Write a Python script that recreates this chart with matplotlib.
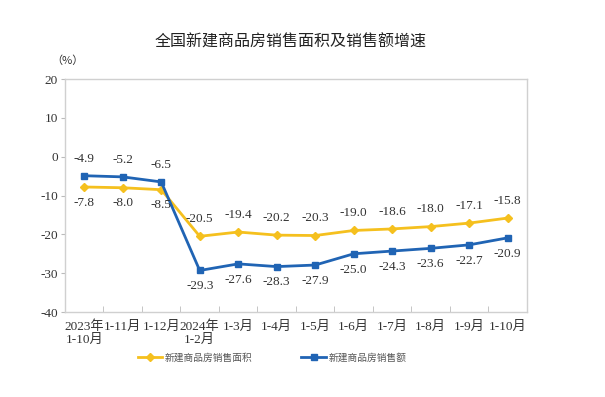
import matplotlib
matplotlib.use("Agg")
import matplotlib.pyplot as plt
import numpy as np

plt.rcParams["font.family"] = ["Liberation Serif", "Noto Sans CJK SC", "DejaVu Sans"]
plt.rcParams["axes.unicode_minus"] = False

categories = ["2023年\n1-10月", "1-11月", "1-12月", "2024年\n1-2月", "1-3月", "1-4月",
              "1-5月", "1-6月", "1-7月", "1-8月", "1-9月", "1-10月"]
area_growth = [-7.8, -8.0, -8.5, -20.5, -19.4, -20.2, -20.3, -19.0, -18.6, -18.0, -17.1, -15.8]
sales_growth = [-4.9, -5.2, -6.5, -29.3, -27.6, -28.3, -27.9, -25.0, -24.3, -23.6, -22.7, -20.9]
y_ticks = [20, 10, 0, -10, -20, -30, -40]

yellow = "#F5C01E"
blue = "#2064B4"
text_color = "#333333"

fig = plt.figure(figsize=(6.05, 3.97), dpi=100)
ax = fig.add_axes([0.1074, 0.214, 0.7636, 0.587])

x = np.arange(len(categories))
ax.plot(x, area_growth, color=yellow, lw=2, marker="D", ms=4, label="新建商品房销售面积")
ax.plot(x, sales_growth, color=blue, lw=2, marker="s", ms=4, label="新建商品房销售额")

# value labels: first three points the lines are the other way round
for i in range(len(x)):
    if i < 3:
        ax.annotate(f"{sales_growth[i]:.1f}", (x[i], sales_growth[i]), xytext=(0, 8),
                    textcoords="offset points", ha="center", va="bottom", fontsize=9.5, color=text_color)
        ax.annotate(f"{area_growth[i]:.1f}", (x[i], area_growth[i]), xytext=(0, -7),
                    textcoords="offset points", ha="center", va="top", fontsize=9.5, color=text_color)
    else:
        ax.annotate(f"{area_growth[i]:.1f}", (x[i], area_growth[i]), xytext=(0, 8),
                    textcoords="offset points", ha="center", va="bottom", fontsize=9.5, color=text_color)
        ax.annotate(f"{sales_growth[i]:.1f}", (x[i], sales_growth[i]), xytext=(0, -7),
                    textcoords="offset points", ha="center", va="top", fontsize=9.5, color=text_color)

ax.set_xlim(-0.5, len(x) - 0.5)
ax.set_ylim(-40, 20)
ax.set_yticks(y_ticks)
ax.tick_params(axis="y", direction="out", length=3, color="#BBBBBB", labelsize=9.5, labelcolor=text_color, pad=2)

ax.set_xticks(x)
ax.set_xticklabels(categories, fontsize=9.5, color=text_color, linespacing=1.1)
ax.set_xticks(np.arange(0.5, len(x) - 0.5), minor=True)
ax.tick_params(axis="x", which="major", length=0, pad=6)
ax.tick_params(axis="x", which="minor", direction="in", length=4, color="#BBBBBB")

for s in ax.spines.values():
    s.set_color("#D0D0D0")
    s.set_linewidth(1)

fig.text(0.48, 0.893, "全国新建商品房销售面积及销售额增速", ha="center", va="center",
         fontsize=11.5, color="#222222", family=["Noto Sans CJK SC", "DejaVu Sans"])
fig.text(0.085, 0.848, "（%）", ha="left", va="center", fontsize=8, color=text_color,
         family=["Noto Sans CJK SC", "DejaVu Sans"])

leg = fig.legend(loc="center", bbox_to_anchor=(0.45, 0.1), ncol=2, frameon=False,
                 columnspacing=5, handlelength=2.5, handletextpad=0.3,
                 prop={"family": ["Noto Sans CJK SC", "DejaVu Sans"], "size": 7})
for t in leg.get_texts():
    t.set_color("#555555")

fig.savefig("out.png", dpi=100)
